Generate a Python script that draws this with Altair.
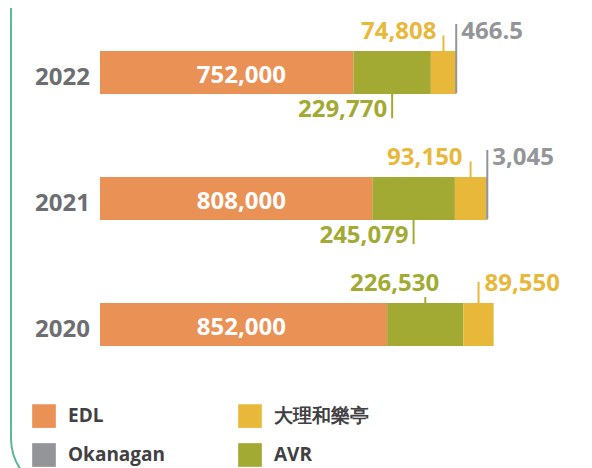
import altair as alt
import pandas as pd

# ---- data ----
years = ["2022", "2021", "2020"]
edl = [752000, 808000, 852000]
avr = [229770, 245079, 226530]
dali = [74808, 93150, 89550]
okanagan = [466.5, 3045, None]

series = ["EDL", "AVR", "大理和樂亭", "Okanagan"]
legend_order = ["EDL", "Okanagan", "大理和樂亭", "AVR"]
palette = ["#EA9155", "#939598", "#E8B83A", "#A2AA33"]

# callout styling per label: year, series, rule from/to (px from bar centre), label dy (px), align, dx (px)
callouts = [
    ("2022", "大理和樂亭", -38.5, -21.5, -42, "right", -7),
    ("2022", "Okanagan", -50.5, 21.5, -42, "left", 5),
    ("2022", "AVR", 21.5, 47.5, 38.5, "right", -5),
    ("2021", "大理和樂亭", -38.5, -21.5, -42, "right", -8),
    ("2021", "Okanagan", -50.5, 21.5, -42, "left", 5),
    ("2021", "AVR", 21.5, 47.5, 38.5, "right", -5),
    ("2020", "AVR", -28.5, -21.5, -42, "right", 14),
    ("2020", "大理和樂亭", -44.5, -21.5, -42, "left", 6),
]

# ---- scales ----
X_RANGE = [92, 429]          # 0 .. 1,000,000
PX = (X_RANGE[1] - X_RANGE[0]) / 1e6
Y_RANGE = [59.5, 321.5]      # row 0 .. row 2
STEP = (Y_RANGE[1] - Y_RANGE[0]) / 2

xs = alt.Scale(domain=[0, 1e6], range=X_RANGE, nice=False, zero=False)
ys = alt.Scale(domain=[0, 2], range=Y_RANGE, nice=False, zero=False)
cs = alt.Scale(domain=legend_order, range=palette)

# ---- tables ----
rows = []
for i, yr in enumerate(years):
    start = 0.0
    for s, vals in zip(series, [edl, avr, dali, okanagan]):
        v = vals[i]
        if v is None:
            continue
        rows.append(dict(year=yr, row=i, series=s, value=v, start=start,
                         end=start + v, mid=start + v / 2, ord=series.index(s)))
        start += v
bar_df = pd.DataFrame(rows)

crow = []
for yr, s, r0, r1, ldy, align, dx in callouts:
    b = bar_df[(bar_df.year == yr) & (bar_df.series == s)].iloc[0]
    rx = b.end if s == "Okanagan" else b.mid
    crow.append(dict(series=s, value=b.value, rx=rx,
                     ry0=b.row + r0 / STEP, ry1=b.row + r1 / STEP,
                     ly=b.row + ldy / STEP, lx=rx + dx / PX, align=align))
call_df = pd.DataFrame(crow)

FONT = "Open Sans"
NUM_SIZE = 24

border = alt.Chart(pd.DataFrame({"k": [0]})).mark_rect(
    fill=None, stroke="#5DB98F", strokeWidth=2, cornerRadius=56
).encode(x=alt.value(3), x2=alt.value(800), y=alt.value(-200), y2=alt.value(486))

bars = alt.Chart(bar_df).mark_bar(orient="horizontal", size=43).encode(
    x=alt.X("start:Q", scale=xs, axis=None),
    x2="end:Q",
    y=alt.Y("row:Q", scale=ys, axis=None),
    color=alt.Color("series:N", scale=cs, title=None,
                    legend=alt.Legend(orient="none", legendX=24, legendY=396, columns=2)),
    order=alt.Order("ord:Q"),
)

rules = alt.Chart(call_df).mark_rule(strokeWidth=2).encode(
    x=alt.X("rx:Q", scale=xs, axis=None),
    y=alt.Y("ry0:Q", scale=ys, axis=None),
    y2="ry1:Q",
    color=alt.Color("series:N", scale=cs, legend=None),
)

def labels(align):
    return alt.Chart(call_df).transform_filter(alt.datum.align == align).mark_text(
        align=align, baseline="middle", font=FONT, fontSize=NUM_SIZE, fontWeight="bold"
    ).encode(
        x=alt.X("lx:Q", scale=xs, axis=None),
        y=alt.Y("ly:Q", scale=ys, axis=None),
        text=alt.Text("value:Q", format=","),
        color=alt.Color("series:N", scale=cs, legend=None),
    )

edl_df = bar_df[bar_df.series == "EDL"]
edl_labels = alt.Chart(edl_df).mark_text(
    align="right", baseline="middle", dy=3, font=FONT, fontSize=NUM_SIZE,
    fontWeight="bold", color="white"
).encode(
    x=alt.value(278),
    y=alt.Y("row:Q", scale=ys, axis=None),
    text=alt.Text("value:Q", format=","),
)

year_labels = alt.Chart(edl_df).mark_text(
    align="right", baseline="middle", dy=5, font=FONT, fontSize=NUM_SIZE,
    fontWeight="bold", color="#6D6E71"
).encode(
    x=alt.value(82),
    y=alt.Y("row:Q", scale=ys, axis=None),
    text="year:N",
)

chart = alt.layer(border, bars, rules, labels("right"), labels("left"),
                  edl_labels, year_labels).properties(
    width=576, height=460,
    autosize=alt.AutoSizeParams(type="none"),
    padding=0,
).configure_view(stroke=None).configure_legend(
    symbolType="square", symbolSize=560, symbolStrokeWidth=0,
    labelFont=FONT, labelFontSize=19, labelFontWeight="bold", labelColor="#414042",
    labelOffset=12, columnPadding=72, rowPadding=15, labelLimit=300,
)

chart.save("out.html", embed_options={"renderer": "svg", "actions": False})
